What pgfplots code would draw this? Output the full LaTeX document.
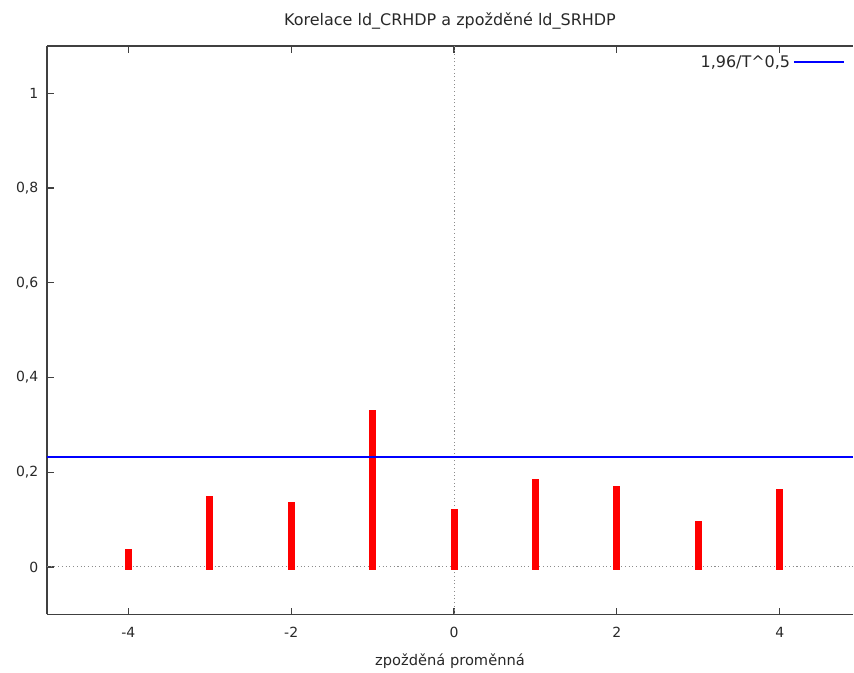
\documentclass[border=0pt]{standalone}
\usepackage{pgfplots}
\pgfplotsset{compat=1.18}
\usepackage{fontspec}
\setmainfont{DejaVu Sans}

\definecolor{txt}{RGB}{40,40,40}
\definecolor{barred}{RGB}{255,0,0}
\definecolor{limblue}{RGB}{0,0,255}

\begin{document}
\begin{tikzpicture}
\begin{axis}[
    name=ax,
    scale only axis,
    width=605.25pt, height=426.75pt,
    xmin=-5, xmax=4.9,
    ymin=-0.1, ymax=1.1,
    axis x line*=box,
    axis y line*=left,
    axis line style={-, draw=black!75, line width=0.9pt},
    tick align=inside,
    major tick length=5pt,
    tick style={black!75, line width=0.9pt},
    xtick={-4,-2,0,2,4},
    ytick={0,0.2,0.4,0.6,0.8,1},
    /pgf/number format/use comma,
    /pgf/number format/assume math mode=true,
    tick label style={font=\fontsize{10.5}{12}\selectfont, text=txt},
    xticklabel style={yshift=-6pt},
    yticklabel style={xshift=-3pt},
    title={Korelace ld\_CRHDP a zpožděné ld\_SRHDP},
    title style={font=\fontsize{12}{14}\selectfont, text=txt, yshift=3pt},
    xlabel={zpožděná proměnná},
    xlabel style={font=\fontsize{11}{13}\selectfont, text=txt, yshift=-5pt},
    legend style={at={(rel axis cs:1,1)}, anchor=north east, xshift=-3pt, yshift=-3pt,
        draw=none, fill=none, font=\fontsize{12}{14}\selectfont, text=txt},
    legend plot pos=right,
    legend image code/.code={\draw[#1] (11pt,0pt) -- (48.5pt,0pt);},
    clip=false,
]
\draw[black!45, dotted, line width=0.8pt] (axis cs:0,-0.1) -- (axis cs:0,1.1);
\draw[black!45, dotted, line width=0.8pt] (axis cs:-5,0) -- (axis cs:4.9,0);

\addplot[ycomb, barred, line width=5.25pt, line cap=rect, forget plot]
coordinates {
(-4,0.031) (-3,0.142) (-2,0.130) (-1,0.324) (0,0.114)
(1,0.178) (2,0.163) (3,0.090) (4,0.157)
};

\addplot[draw=limblue, line width=1.5pt, mark=none]
coordinates {(-5,0.2315) (4.9,0.2315)};
\addlegendentry{1,96/T\textasciicircum 0,5}
\end{axis}
\path ([shift={(-35.25pt,-42.75pt)}]ax.south west) rectangle ([shift={(0pt,34.5pt)}]ax.north east);
\end{tikzpicture}
\end{document}
